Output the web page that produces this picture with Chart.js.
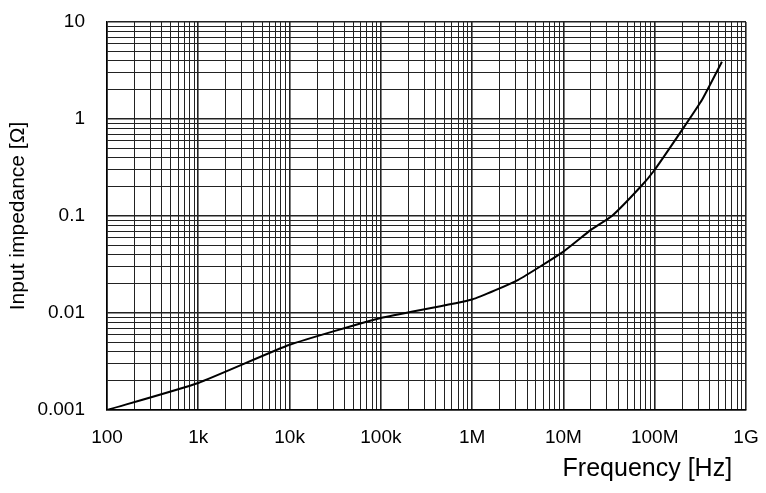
<!DOCTYPE html>
<html>
<head>
<meta charset="utf-8">
<script src="https://cdn.jsdelivr.net/npm/chart.js@4/dist/chart.umd.min.js"></script>
<style>
  html, body { margin: 0; padding: 0; background: #fff; }
  #wrap { width: 766px; height: 493px; }
</style>
</head>
<body>
<div id="wrap"><canvas id="zChart"></canvas></div>
<script>
// input impedance vs frequency
const freqHz = [100, 1e3, 1e4, 1e5, 1e6, 3.2e6, 1e7, 2e7, 3.4e7, 7e7, 1e8, 2.1e8, 3.3e8, 5.45e8];
const impedance = [0.001, 0.0019, 0.0047, 0.0089, 0.0138, 0.022, 0.043, 0.072, 0.1, 0.2, 0.3, 0.83, 1.58, 3.9];

// axis decades + labels
const xDecades = [1e2, 1e3, 1e4, 1e5, 1e6, 1e7, 1e8, 1e9];
const xLabels = ["100", "1k", "10k", "100k", "1M", "10M", "100M", "1G"];
const yDecades = [0.001, 0.01, 0.1, 1, 10];
const yLabels = ["0.001", "0.01", "0.1", "1", "10"];
const minorSteps = [1, 2, 3, 4, 5, 6, 7, 8, 9];

// every 1..9 step inside each decade, plus the last decade
function gridTicks(decades) {
  const out = [];
  for (let i = 0; i < decades.length - 1; i++) {
    minorSteps.forEach((m) => out.push({ value: decades[i] * m }));
  }
  out.push({ value: decades[decades.length - 1] });
  return out;
}

function isDecade(decades, v) {
  return decades.some((d) => Math.abs(v / d - 1) < 1e-6);
}

// no extra padding for edge labels, plot box is set by layout padding
function noEdgePad(s) {
  s.paddingTop = 0;
  s.paddingBottom = 0;
  s.paddingLeft = 0;
  s.paddingRight = 0;
}

const fam = "'Liberation Sans', Arial, sans-serif";

new Chart(document.getElementById("zChart").getContext("2d"), {
  type: "line",
  data: {
    datasets: [
      {
        data: freqHz.map((f, i) => ({ x: f, y: impedance[i] })),
        borderColor: "#000",
        borderWidth: 2,
        pointRadius: 0,
        tension: 0.15,
        fill: false,
      },
    ],
  },
  options: {
    responsive: true,
    maintainAspectRatio: false,
    animation: false,
    layout: { padding: { top: 22, right: 20, left: 0, bottom: 0 } },
    plugins: { legend: { display: false }, tooltip: { enabled: false } },
    scales: {
      x: {
        type: "logarithmic",
        min: 1e2,
        max: 1e9,
        afterBuildTicks: (s) => { s.ticks = gridTicks(xDecades); },
        afterFit: (s) => { s.height = 83; noEdgePad(s); },
        grid: {
          color: "#222",
          lineWidth: (c) => (isDecade(xDecades, c.tick.value) ? 1.6 : 1),
          drawTicks: false,
        },
        border: { color: "#000", width: 1.5 },
        ticks: {
          autoSkip: false,
          maxRotation: 0,
          padding: 16,
          color: "#000",
          font: { family: fam, size: 19 },
          callback: (v) => {
            const i = xDecades.findIndex((d) => Math.abs(v / d - 1) < 1e-6);
            return i >= 0 ? xLabels[i] : "";
          },
        },
        title: {
          display: true,
          // trailing nbsp pulls the text a bit left of the axis end
          text: "Frequency [Hz]\u00a0\u00a0",
          align: "end",
          color: "#000",
          font: { family: fam, size: 25 },
          padding: { top: 2, bottom: 9 },
        },
      },
      y: {
        type: "logarithmic",
        min: 0.001,
        max: 10,
        afterBuildTicks: (s) => { s.ticks = gridTicks(yDecades); },
        afterFit: (s) => { s.width = 107; noEdgePad(s); },
        grid: {
          color: "#222",
          lineWidth: (c) => (isDecade(yDecades, c.tick.value) ? 1.6 : 1),
          drawTicks: false,
        },
        border: { color: "#000", width: 1.5 },
        ticks: {
          autoSkip: false,
          padding: 22,
          color: "#000",
          font: { family: fam, size: 19 },
          callback: (v) => {
            const i = yDecades.findIndex((d) => Math.abs(v / d - 1) < 1e-6);
            return i >= 0 ? yLabels[i] : "";
          },
        },
        title: {
          display: true,
          text: "Input impedance [Ω]",
          color: "#000",
          font: { family: fam, size: 21 },
          padding: { top: 6, bottom: 0 },
        },
      },
    },
  },
});
</script>
</body>
</html>
